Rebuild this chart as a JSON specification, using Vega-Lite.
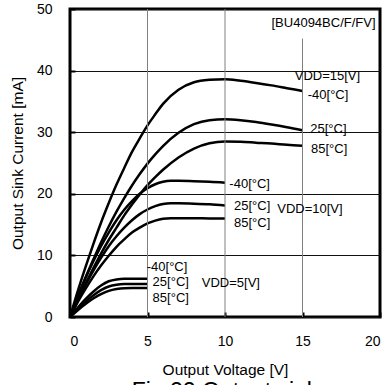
{
  "$schema": "https://vega.github.io/schema/vega-lite/v6.json",
  "autosize": "none",
  "width": 310,
  "height": 308,
  "padding": {"left": 70, "top": 9, "right": 6, "bottom": 68},
  "background": "white",
  "config": {
    "view": {"stroke": "black", "strokeWidth": 3},
    "font": "Liberation Sans",
    "axis": {"labelFont": "Liberation Sans", "titleFont": "Liberation Sans", "labelColor": "black", "titleColor": "black", "titleFontWeight": "normal"}
  },
  "title": {"text": "Fig.22 Output sink", "orient": "bottom", "fontSize": 23, "fontWeight": "normal", "font": "Liberation Sans", "color": "black", "offset": 3},
  "datasets": {
    "grid": [
      {"gx": 5, "gbot": 0, "gtop": 50},
      {"gx": 10, "gbot": 0, "gtop": 50},
      {"gx": 15, "gbot": 0, "gtop": 45.2}
    ],
    "curves": [
      {"s": "15V -40", "v": 0, "i": 0}, {"s": "15V -40", "v": 0.5, "i": 4.2}, {"s": "15V -40", "v": 1, "i": 8.1}, {"s": "15V -40", "v": 1.5, "i": 11.8}, {"s": "15V -40", "v": 2, "i": 15.3}, {"s": "15V -40", "v": 2.5, "i": 18.5}, {"s": "15V -40", "v": 3, "i": 21.5}, {"s": "15V -40", "v": 3.5, "i": 24.2}, {"s": "15V -40", "v": 4, "i": 26.8}, {"s": "15V -40", "v": 4.5, "i": 29.0}, {"s": "15V -40", "v": 5, "i": 31.1}, {"s": "15V -40", "v": 5.5, "i": 32.9}, {"s": "15V -40", "v": 6, "i": 34.6}, {"s": "15V -40", "v": 7, "i": 36.9}, {"s": "15V -40", "v": 8, "i": 38.1}, {"s": "15V -40", "v": 9, "i": 38.5}, {"s": "15V -40", "v": 10, "i": 38.6}, {"s": "15V -40", "v": 11, "i": 38.35}, {"s": "15V -40", "v": 12, "i": 38.0}, {"s": "15V -40", "v": 13, "i": 37.6}, {"s": "15V -40", "v": 14, "i": 37.15}, {"s": "15V -40", "v": 15, "i": 36.7},
      {"s": "15V 25", "v": 0, "i": 0}, {"s": "15V 25", "v": 0.5, "i": 3.3}, {"s": "15V 25", "v": 1, "i": 6.4}, {"s": "15V 25", "v": 1.5, "i": 9.3}, {"s": "15V 25", "v": 2, "i": 12.1}, {"s": "15V 25", "v": 2.5, "i": 14.7}, {"s": "15V 25", "v": 3, "i": 17.1}, {"s": "15V 25", "v": 3.5, "i": 19.3}, {"s": "15V 25", "v": 4, "i": 21.35}, {"s": "15V 25", "v": 4.5, "i": 23.2}, {"s": "15V 25", "v": 5, "i": 24.9}, {"s": "15V 25", "v": 5.5, "i": 26.4}, {"s": "15V 25", "v": 6, "i": 27.75}, {"s": "15V 25", "v": 7, "i": 29.9}, {"s": "15V 25", "v": 8, "i": 31.3}, {"s": "15V 25", "v": 9, "i": 31.95}, {"s": "15V 25", "v": 10, "i": 32.1}, {"s": "15V 25", "v": 11, "i": 31.95}, {"s": "15V 25", "v": 12, "i": 31.65}, {"s": "15V 25", "v": 13, "i": 31.25}, {"s": "15V 25", "v": 14, "i": 30.8}, {"s": "15V 25", "v": 15, "i": 30.3},
      {"s": "15V 85", "v": 0, "i": 0}, {"s": "15V 85", "v": 0.5, "i": 2.8}, {"s": "15V 85", "v": 1, "i": 5.4}, {"s": "15V 85", "v": 1.5, "i": 7.9}, {"s": "15V 85", "v": 2, "i": 10.3}, {"s": "15V 85", "v": 2.5, "i": 12.5}, {"s": "15V 85", "v": 3, "i": 14.5}, {"s": "15V 85", "v": 3.5, "i": 16.5}, {"s": "15V 85", "v": 4, "i": 18.25}, {"s": "15V 85", "v": 4.5, "i": 19.9}, {"s": "15V 85", "v": 5, "i": 21.4}, {"s": "15V 85", "v": 5.5, "i": 22.7}, {"s": "15V 85", "v": 6, "i": 23.9}, {"s": "15V 85", "v": 7, "i": 25.9}, {"s": "15V 85", "v": 8, "i": 27.35}, {"s": "15V 85", "v": 9, "i": 28.2}, {"s": "15V 85", "v": 10, "i": 28.5}, {"s": "15V 85", "v": 11, "i": 28.45}, {"s": "15V 85", "v": 12, "i": 28.3}, {"s": "15V 85", "v": 13, "i": 28.15}, {"s": "15V 85", "v": 14, "i": 27.95}, {"s": "15V 85", "v": 15, "i": 27.8},
      {"s": "10V -40", "v": 0, "i": 0}, {"s": "10V -40", "v": 0.5, "i": 3.3}, {"s": "10V -40", "v": 1, "i": 6.3}, {"s": "10V -40", "v": 1.5, "i": 9.0}, {"s": "10V -40", "v": 2, "i": 11.5}, {"s": "10V -40", "v": 2.5, "i": 13.7}, {"s": "10V -40", "v": 3, "i": 15.7}, {"s": "10V -40", "v": 3.5, "i": 17.4}, {"s": "10V -40", "v": 4, "i": 18.8}, {"s": "10V -40", "v": 4.5, "i": 20.0}, {"s": "10V -40", "v": 5, "i": 20.9}, {"s": "10V -40", "v": 5.5, "i": 21.55}, {"s": "10V -40", "v": 6, "i": 21.95}, {"s": "10V -40", "v": 6.5, "i": 22.1}, {"s": "10V -40", "v": 7, "i": 22.1}, {"s": "10V -40", "v": 8, "i": 22.05}, {"s": "10V -40", "v": 9, "i": 21.95}, {"s": "10V -40", "v": 10, "i": 21.8},
      {"s": "10V 25", "v": 0, "i": 0}, {"s": "10V 25", "v": 0.5, "i": 2.7}, {"s": "10V 25", "v": 1, "i": 5.2}, {"s": "10V 25", "v": 1.5, "i": 7.5}, {"s": "10V 25", "v": 2, "i": 9.6}, {"s": "10V 25", "v": 2.5, "i": 11.5}, {"s": "10V 25", "v": 3, "i": 13.1}, {"s": "10V 25", "v": 3.5, "i": 14.5}, {"s": "10V 25", "v": 4, "i": 15.7}, {"s": "10V 25", "v": 4.5, "i": 16.7}, {"s": "10V 25", "v": 5, "i": 17.45}, {"s": "10V 25", "v": 5.5, "i": 18.0}, {"s": "10V 25", "v": 6, "i": 18.35}, {"s": "10V 25", "v": 6.5, "i": 18.45}, {"s": "10V 25", "v": 7, "i": 18.45}, {"s": "10V 25", "v": 8, "i": 18.4}, {"s": "10V 25", "v": 9, "i": 18.3}, {"s": "10V 25", "v": 10, "i": 18.1},
      {"s": "10V 85", "v": 0, "i": 0}, {"s": "10V 85", "v": 0.5, "i": 2.4}, {"s": "10V 85", "v": 1, "i": 4.55}, {"s": "10V 85", "v": 1.5, "i": 6.55}, {"s": "10V 85", "v": 2, "i": 8.35}, {"s": "10V 85", "v": 2.5, "i": 9.95}, {"s": "10V 85", "v": 3, "i": 11.4}, {"s": "10V 85", "v": 3.5, "i": 12.6}, {"s": "10V 85", "v": 4, "i": 13.7}, {"s": "10V 85", "v": 4.5, "i": 14.5}, {"s": "10V 85", "v": 5, "i": 15.2}, {"s": "10V 85", "v": 5.5, "i": 15.65}, {"s": "10V 85", "v": 6, "i": 15.95}, {"s": "10V 85", "v": 6.5, "i": 16.05}, {"s": "10V 85", "v": 7, "i": 16.05}, {"s": "10V 85", "v": 8, "i": 16.05}, {"s": "10V 85", "v": 9, "i": 16.0}, {"s": "10V 85", "v": 10, "i": 16.0},
      {"s": "5V -40", "v": 0, "i": 0}, {"s": "5V -40", "v": 0.5, "i": 1.5}, {"s": "5V -40", "v": 1, "i": 2.9}, {"s": "5V -40", "v": 1.5, "i": 4.1}, {"s": "5V -40", "v": 2, "i": 5.1}, {"s": "5V -40", "v": 2.5, "i": 5.8}, {"s": "5V -40", "v": 3, "i": 6.1}, {"s": "5V -40", "v": 3.5, "i": 6.2}, {"s": "5V -40", "v": 4, "i": 6.2}, {"s": "5V -40", "v": 5, "i": 6.2},
      {"s": "5V 25", "v": 0, "i": 0}, {"s": "5V 25", "v": 0.5, "i": 1.3}, {"s": "5V 25", "v": 1, "i": 2.5}, {"s": "5V 25", "v": 1.5, "i": 3.5}, {"s": "5V 25", "v": 2, "i": 4.35}, {"s": "5V 25", "v": 2.5, "i": 4.95}, {"s": "5V 25", "v": 3, "i": 5.25}, {"s": "5V 25", "v": 3.5, "i": 5.35}, {"s": "5V 25", "v": 4, "i": 5.35}, {"s": "5V 25", "v": 5, "i": 5.35},
      {"s": "5V 85", "v": 0, "i": 0}, {"s": "5V 85", "v": 0.5, "i": 1.1}, {"s": "5V 85", "v": 1, "i": 2.1}, {"s": "5V 85", "v": 1.5, "i": 3.0}, {"s": "5V 85", "v": 2, "i": 3.7}, {"s": "5V 85", "v": 2.5, "i": 4.25}, {"s": "5V 85", "v": 3, "i": 4.55}, {"s": "5V 85", "v": 3.5, "i": 4.68}, {"s": "5V 85", "v": 4, "i": 4.7}, {"s": "5V 85", "v": 5, "i": 4.7}
    ],
    "labels": [
      {"lx": 13.0, "ly": 47.7, "t": "[BU4094BC/F/FV]"},
      {"lx": 14.5, "ly": 39.2, "t": "VDD=15[V]"},
      {"lx": 15.34, "ly": 36.0, "t": "-40[°C]"},
      {"lx": 15.5, "ly": 30.5, "t": "25[°C]"},
      {"lx": 15.55, "ly": 27.2, "t": "85[°C]"},
      {"lx": 10.28, "ly": 21.6, "t": "-40[°C]"},
      {"lx": 10.58, "ly": 18.07, "t": "25[°C]"},
      {"lx": 13.37, "ly": 17.6, "t": "VDD=10[V]"},
      {"lx": 10.58, "ly": 15.2, "t": "85[°C]"},
      {"lx": 4.95, "ly": 8.17, "t": "-40[°C]"},
      {"lx": 5.33, "ly": 5.73, "t": "25[°C]"},
      {"lx": 8.5, "ly": 5.57, "t": "VDD=5[V]"},
      {"lx": 5.33, "ly": 3.03, "t": "85[°C]"}
    ]
  },
  "layer": [
    {
      "data": {"name": "curves"},
      "mark": {"type": "line", "color": "black", "strokeWidth": 2.5, "interpolate": "monotone"},
      "encoding": {
        "x": {"field": "v", "type": "quantitative", "scale": {"domain": [0, 20], "nice": false},
          "axis": {"values": [0, 5, 10, 15, 20], "grid": false, "domain": false, "ticks": true, "tickSize": -5, "tickWidth": 2, "tickColor": "black", "labelFontSize": 14, "labelPadding": 22, "title": "Output Voltage [V]", "titleFontSize": 15.5, "titlePadding": 14}},
        "y": {"field": "i", "type": "quantitative", "scale": {"domain": [0, 50], "nice": false},
          "axis": {"values": [0, 10, 20, 30, 40, 50], "grid": true, "gridColor": "#111111", "gridWidth": 1, "domain": false, "ticks": true, "tickSize": -5, "tickWidth": 2, "tickColor": "black", "labelFontSize": 14, "labelPadding": 23, "title": "Output Sink Current [mA]", "titleFontSize": 15.5, "titlePadding": 11}},
        "detail": {"field": "s", "type": "nominal"}
      }
    },
    {
      "data": {"name": "grid"},
      "mark": {"type": "rule", "color": "#808080", "strokeWidth": 1},
      "encoding": {
        "x": {"field": "gx", "type": "quantitative"},
        "y": {"field": "gbot", "type": "quantitative"},
        "y2": {"field": "gtop"}
      }
    },
    {
      "data": {"name": "labels"},
      "mark": {"type": "text", "align": "left", "baseline": "middle", "fontSize": 13, "font": "Liberation Sans", "color": "black"},
      "encoding": {
        "x": {"field": "lx", "type": "quantitative"},
        "y": {"field": "ly", "type": "quantitative"},
        "text": {"field": "t", "type": "nominal"}
      }
    }
  ]
}
